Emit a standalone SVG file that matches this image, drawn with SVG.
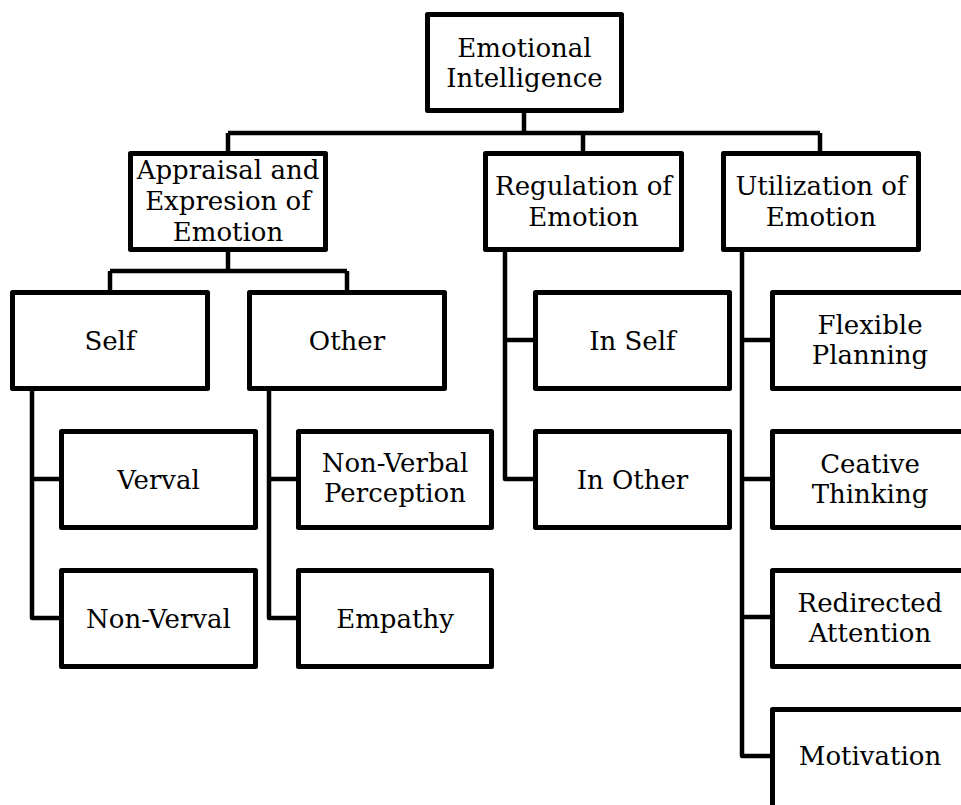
<svg xmlns="http://www.w3.org/2000/svg" width="961" height="805" viewBox="0 0 961 805">
<style>
.box{fill:#fff;stroke:#000;stroke-width:5;stroke-linejoin:round}
.lbl{font-family:"DejaVu Serif","Liberation Serif",serif;font-size:26px;fill:#000;text-anchor:middle}
.con{fill:none;stroke:#000;stroke-width:4.5;stroke-linejoin:round}
</style>
<rect width="961" height="805" fill="#fff"/>
<g id="connectors">
<path class="con" d="M524,113V133M228,133H820M228,133V151M583,133V151M820,133V151"/>
<path class="con" d="M228,252V271M110,271H347M110,271V290M347,271V290"/>
<path class="con" d="M32,391V618H59M32,479H59"/>
<path class="con" d="M269,391V618H296M269,479H296"/>
<path class="con" d="M505,252V479H533M505,340H533"/>
<path class="con" d="M742,252V756H770M742,340H770M742,479H770M742,617H770"/>
</g>
<g id="n-ei"><rect class="box" x="427.5" y="14.5" width="194" height="96"/><text class="lbl" x="524.5" y="57">Emotional</text><text class="lbl" x="524.5" y="87">Intelligence</text></g>
<g id="n-appraisal"><rect class="box" x="130.5" y="153.5" width="195" height="96"/><text class="lbl" x="228" y="179">Appraisal and</text><text class="lbl" x="228" y="210">Expresion of</text><text class="lbl" x="228" y="241">Emotion</text></g>
<g id="n-regulation"><rect class="box" x="485.5" y="153.5" width="196" height="96"/><text class="lbl" x="583.5" y="195">Regulation of</text><text class="lbl" x="583.5" y="226">Emotion</text></g>
<g id="n-utilization"><rect class="box" x="723.5" y="153.5" width="195" height="96"/><text class="lbl" x="821" y="195">Utilization of</text><text class="lbl" x="821" y="226">Emotion</text></g>
<g id="n-self"><rect class="box" x="12.5" y="292.5" width="195" height="96"/><text class="lbl" x="110" y="350">Self</text></g>
<g id="n-other"><rect class="box" x="249.5" y="292.5" width="195" height="96"/><text class="lbl" x="347" y="350">Other</text></g>
<g id="n-verval"><rect class="box" x="61.5" y="431.5" width="194" height="96"/><text class="lbl" x="158.5" y="489">Verval</text></g>
<g id="n-nonverval"><rect class="box" x="61.5" y="570.5" width="194" height="96"/><text class="lbl" x="158.5" y="628">Non-Verval</text></g>
<g id="n-nvp"><rect class="box" x="298.5" y="431.5" width="193" height="96"/><text class="lbl" x="395" y="472">Non-Verbal</text><text class="lbl" x="395" y="502">Perception</text></g>
<g id="n-empathy"><rect class="box" x="298.5" y="570.5" width="193" height="96"/><text class="lbl" x="395" y="628">Empathy</text></g>
<g id="n-inself"><rect class="box" x="535.5" y="292.5" width="194" height="96"/><text class="lbl" x="632.5" y="350">In Self</text></g>
<g id="n-inother"><rect class="box" x="535.5" y="431.5" width="194" height="96"/><text class="lbl" x="632.5" y="489">In Other</text></g>
<g id="n-flexible"><rect class="box" x="772.5" y="292.5" width="195" height="96"/><text class="lbl" x="870" y="334">Flexible</text><text class="lbl" x="870" y="364">Planning</text></g>
<g id="n-ceative"><rect class="box" x="772.5" y="431.5" width="195" height="96"/><text class="lbl" x="870" y="473">Ceative</text><text class="lbl" x="870" y="503">Thinking</text></g>
<g id="n-redirected"><rect class="box" x="772.5" y="570.5" width="195" height="96"/><text class="lbl" x="870" y="612">Redirected</text><text class="lbl" x="870" y="642">Attention</text></g>
<g id="n-motivation"><rect class="box" x="772.5" y="709.5" width="195" height="106"/><text class="lbl" x="870" y="765">Motivation</text></g>
</svg>
